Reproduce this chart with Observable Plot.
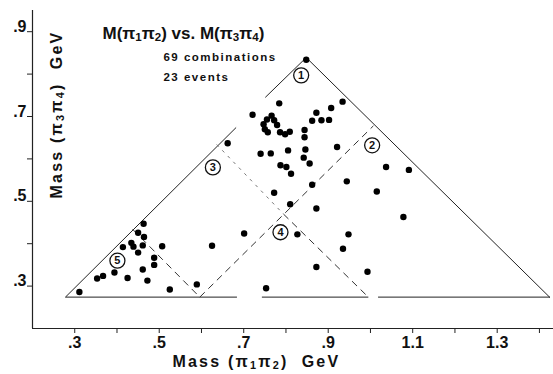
<!DOCTYPE html>
<html><head><meta charset="utf-8">
<script src="https://cdn.jsdelivr.net/npm/d3@7"></script>
<script src="https://cdn.jsdelivr.net/npm/@observablehq/plot@0.6"></script>
<style>body{margin:0;background:#fff} #chart svg{display:block}</style>
</head><body><div id="chart"></div>
<script>
// M(pi1 pi2) values (GeV) for the 69 combinations
const m12 = [0.311,0.353,0.367,0.394,0.425,0.461,0.472,0.525,0.414,0.434,0.439,0.450,0.461,0.450,0.464,0.463,0.507,0.488,0.488,0.589,
  0.625,0.701,0.753,0.662,
  0.848,0.934,0.907,0.872,0.862,0.884,0.902,0.784,0.721,
  0.766,0.755,0.747,0.750,0.757,0.772,0.779,0.786,0.798,0.809,
  0.844,0.844,0.846,0.921,0.805,0.740,0.764,0.842,0.856,0.787,0.801,0.812,0.862,0.944,1.015,1.037,1.091,
  0.772,0.810,0.872,0.827,0.948,0.935,0.872,0.993,1.078];
// M(pi3 pi4) values (GeV)
const m34 = [0.286,0.318,0.324,0.332,0.319,0.339,0.313,0.292,0.392,0.402,0.393,0.379,0.396,0.426,0.416,0.447,0.394,0.367,0.350,0.304,
  0.395,0.424,0.295,0.637,
  0.834,0.735,0.720,0.709,0.690,0.691,0.692,0.731,0.704,
  0.702,0.693,0.682,0.670,0.663,0.691,0.680,0.663,0.658,0.664,
  0.668,0.651,0.622,0.628,0.620,0.612,0.613,0.603,0.589,0.585,0.581,0.565,0.539,0.547,0.523,0.581,0.574,
  0.520,0.493,0.483,0.422,0.422,0.388,0.345,0.334,0.463];

const xTicks = [0.3,0.4,0.5,0.6,0.7,0.8,0.9,1.0,1.1,1.2,1.3,1.4];
const xTickLabels = [0.3,0.5,0.7,0.9,1.1,1.3];
const yTicks = [0.3,0.4,0.5,0.6,0.7,0.8,0.9];
const yTickLabels = [0.3,0.5,0.7,0.9];

// kinematic boundary (solid) segments: [x1, y1, x2, y2]
const boundarySolid = [
  [0.278,0.274,0.682,0.674],
  [0.751,0.745,0.848,0.839],
  [0.848,0.839,1.425,0.273],
  [0.278,0.274,0.684,0.274],
  [0.743,0.274,0.995,0.274],
  [1.018,0.274,1.425,0.274]
];
// region dividing (dashed) segments
const boundaryDashed = [
  [0.437,0.434,0.596,0.274],
  [0.596,0.274,1.007,0.678],
  [0.794,0.470,0.995,0.274]
];
const boundaryDotted = [
  [0.636,0.634,0.794,0.470]
];
const regionIds = ["1","2","3","4","5"];
const regionX = [0.836,1.004,0.627,0.787,0.401];
const regionY = [0.797,0.632,0.580,0.427,0.360];

const titleText = "M(π₁π₂) vs. M(π₃π₄)";
const noteTexts = ["69 combinations", "23 events"];
const xLabel = "Mass (π₁π₂)  GeV";
const yLabel = "Mass (π₃π₄)  GeV";

const pts = m12.map((x,i)=>({x, y:m34[i]}));
const seg = a => a.map(([x1,y1,x2,y2])=>({x1,y1,x2,y2}));
const regions = regionIds.map((id,i)=>({id, x:regionX[i], y:regionY[i]}));
const fmt = d => d.toFixed(1).replace(/^0/, "");
const FONT = "Liberation Sans, Arial, Helvetica, sans-serif";

const chart = Plot.plot({
  width: 553, height: 374,
  marginLeft: 32, marginRight: 0, marginTop: 10, marginBottom: 46,
  x: {domain: [0.2, 1.4333]},
  y: {domain: [0.2, 0.95]},
  style: {background: "#fff", fontFamily: FONT, color: "#111"},
  marks: [
    Plot.ruleY([0.2], {stroke: "#222", strokeWidth: 1.2}),
    Plot.ruleX([0.2], {stroke: "#222", strokeWidth: 1.2}),
    Plot.axisX({ticks: xTicks, tickSize: 5, tickFormat: () => "", label: null, stroke: "#222"}),
    Plot.axisX({ticks: xTickLabels, tickSize: 0, tickPadding: 8, tickFormat: fmt, label: null,
      fontSize: 16, fontWeight: "bold"}),
    Plot.axisY({ticks: yTicks, tickSize: 5, tickFormat: () => "", label: null, stroke: "#222"}),
    Plot.axisY({ticks: yTickLabels, tickSize: 0, tickPadding: 6, dy: -5, tickFormat: fmt, label: null,
      fontSize: 16, fontWeight: "bold"}),
    Plot.link(seg(boundarySolid), {x1: "x1", y1: "y1", x2: "x2", y2: "y2", stroke: "#222", strokeWidth: 1}),
    Plot.link(seg(boundaryDashed), {x1: "x1", y1: "y1", x2: "x2", y2: "y2", stroke: "#333", strokeWidth: 1, strokeDasharray: "7,5"}),
    Plot.link(seg(boundaryDotted), {x1: "x1", y1: "y1", x2: "x2", y2: "y2", stroke: "#777", strokeWidth: 1, strokeDasharray: "3,5"}),
    Plot.dot(pts, {x: "x", y: "y", r: 3.2, fill: "#000", stroke: "none"}),
    Plot.dot(regions, {x: "x", y: "y", r: 7.5, fill: "#fff", stroke: "#111", strokeWidth: 1.3}),
    Plot.text(regions, {x: "x", y: "y", text: "id", fontSize: 11, fontWeight: "bold", fill: "#111"}),
    Plot.text([titleText], {x: 0.3657, y: 0.8958, textAnchor: "start", fontSize: 17, fontWeight: "bold", fill: "#111"}),
    Plot.text([noteTexts[0]], {x: 0.510, y: 0.839, textAnchor: "start", fontSize: 11.5, fontWeight: "bold", fill: "#111"}),
    Plot.text([noteTexts[1]], {x: 0.510, y: 0.792, textAnchor: "start", fontSize: 11.5, fontWeight: "bold", fill: "#111"}),
    Plot.text([xLabel], {x: 0.730, y: 0.1215, fontSize: 16, fontWeight: "bold", fill: "#111"}),
    Plot.text([yLabel], {x: 0.2568, y: 0.7047, rotate: -90, fontSize: 16, fontWeight: "bold", fill: "#111"})
  ]
});
document.getElementById("chart").appendChild(chart);
const allText = d3.select(chart).selectAll("text");
allText.filter(function(){ return this.textContent === xLabel || this.textContent === yLabel; })
  .style("letter-spacing", "2.2px").style("white-space", "pre");
allText.filter(function(){ return noteTexts.includes(this.textContent); })
  .style("letter-spacing", "1.5px");

// render unicode subscript digits as real subscript tspans
const subMap = {"₁":"1","₂":"2","₃":"3","₄":"4"};
allText.filter(function(){ return [titleText, xLabel, yLabel].includes(this.textContent); })
  .each(function(){
    const s = this.textContent;
    const el = d3.select(this);
    el.text(null);
    const runs = [];
    for (const ch of s) {
      const isSub = ch in subMap;
      const c = isSub ? subMap[ch] : ch;
      if (runs.length && runs[runs.length-1].sub === isSub) runs[runs.length-1].t += c;
      else runs.push({sub: isSub, t: c});
    }
    runs.forEach((r, i) => {
      const t = el.append("tspan").text(r.t);
      if (r.sub) t.attr("dy", "0.22em").attr("font-size", "0.68em");
      else if (i > 0 && runs[i-1].sub) t.attr("dy", "-0.15em");
    });
  });
</script>
</body></html>
